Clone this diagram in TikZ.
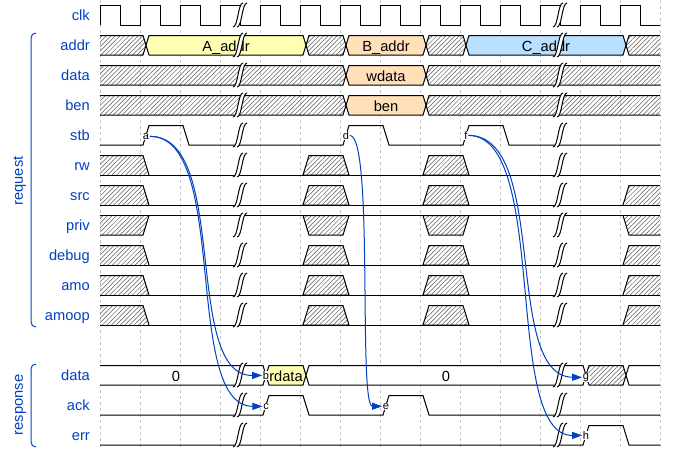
\documentclass[tikz,border=0pt]{standalone}
\usepackage{fontspec}
\setmainfont{Liberation Sans}
\usetikzlibrary{patterns.meta,arrows.meta}
\definecolor{wdblue}{HTML}{0041C4}
\definecolor{wdyel}{HTML}{FFFFB4}
\definecolor{wdora}{HTML}{FFE0B9}
\definecolor{wdsky}{HTML}{B9E0FF}
\tikzset{
  wlane/.style={line width=1pt, black},
  xhatch/.style={pattern={Lines[angle=45,distance=3.2pt,line width=0.5pt]}, pattern color=black!65},
  lanelbl/.style={font=\fontsize{14.67}{17}\selectfont, text=wdblue, anchor=base east, inner sep=0pt},
  vallbl/.style={font=\fontsize{14.67}{17}\selectfont, text=black, anchor=base, inner sep=0pt},
  grplbl/.style={font=\fontsize{14.67}{17}\selectfont, text=wdblue, anchor=base, inner sep=0pt, rotate=90},
  nodelbl/.style={font=\fontsize{11}{13}\selectfont, fill=white, inner sep=0.6pt, anchor=base},
  arcline/.style={wdblue, line width=1pt, -{Triangle[length=10pt,width=7pt]}},
  gridline/.style={black!22, dash pattern=on 3pt off 3pt, line width=0.8pt},
  grpline/.style={wdblue, line width=1pt},
}
% data segment between two data crossings
\newcommand\dseg[3]{\draw[wlane,#3] ({#1+9},5.5)--({#2+3},5.5)--({#2+6},15.25)--({#2+3},25)--({#1+9},25)--({#1+6},15.25)--cycle;}
\newcommand\dsegL[2]{\path[#2] (100,5.5)--({#1+3},5.5)--({#1+6},15.25)--({#1+3},25)--(100,25)--cycle;
  \draw[wlane] (100,5.5)--({#1+3},5.5)--({#1+6},15.25)--({#1+3},25)--(100,25);}
\newcommand\dsegR[2]{\path[#2] (660,5.5)--({#1+9},5.5)--({#1+6},15.25)--({#1+9},25)--(660,25)--cycle;
  \draw[wlane] (660,5.5)--({#1+9},5.5)--({#1+6},15.25)--({#1+9},25)--(660,25);}
% x regions in digital lanes
\newcommand\xlow[2]{\draw[wlane,xhatch] ({#1+3},25)--({#1+9},5.5)--({#2+3},5.5)--({#2+9},25)--cycle;}
\newcommand\xhigh[2]{\draw[wlane,xhatch] ({#1+3},5.5)--({#1+9},25)--({#2+3},25)--({#2+9},5.5)--cycle;}
\newcommand\xstartlow[1]{\path[xhatch] (100,5.5)--({#1+3},5.5)--({#1+9},25)--(100,25)--cycle;
  \draw[wlane] (100,5.5)--({#1+3},5.5)--({#1+9},25);}
\newcommand\xstarthigh[1]{\path[xhatch] (100,25)--({#1+3},25)--({#1+9},5.5)--(100,5.5)--cycle;
  \draw[wlane] (100,25)--({#1+3},25)--({#1+9},5.5);}
\newcommand\xendlow[1]{\path[xhatch] ({#1+3},25)--({#1+9},5.5)--(660,5.5)--(660,25)--cycle;
  \draw[wlane] ({#1+3},25)--({#1+9},5.5)--(660,5.5);}
\newcommand\xendhigh[1]{\path[xhatch] ({#1+3},5.5)--({#1+9},25)--(660,25)--(660,5.5)--cycle;
  \draw[wlane] ({#1+3},5.5)--({#1+9},25)--(660,25);}
% gap glyph
\newcommand\wgap[2]{%
  \fill[white] ({#1-7},{#2+27}) .. controls ({#1-2},{#2+27}) and ({#1-2},{#2+3}) .. ({#1+3},{#2+3}) -- ({#1+7},{#2+3}) .. controls ({#1+2},{#2+3}) and ({#1+2},{#2+27}) .. ({#1-3},{#2+27}) -- cycle;
  \draw[line width=1pt] ({#1-7},{#2+27}) .. controls ({#1-2},{#2+27}) and ({#1-2},{#2+3}) .. ({#1+3},{#2+3});
  \draw[line width=1pt] ({#1-3},{#2+27}) .. controls ({#1+2},{#2+27}) and ({#1+2},{#2+3}) .. ({#1+7},{#2+3});}
\begin{document}
\begin{tikzpicture}[x=1pt,y=-1pt]
\useasboundingbox (0,0) rectangle (680,450);
\fill[white] (0,0) rectangle (680,450);
% grid
\foreach \k in {0,...,14} {\draw[gridline] ({100+40*\k},0) -- ({100+40*\k},450);}
% lane labels
\node[lanelbl] (lclk) at (90,20.7) {clk};
\node[lanelbl] (laddr) at (90,50.7) {addr};
\node[lanelbl] (ldata) at (90,80.7) {data};
\node[lanelbl] (lben) at (90,110.7) {ben};
\node[lanelbl] (lstb) at (90,140.7) {stb};
\node[lanelbl] (lrw) at (90,170.7) {rw};
\node[lanelbl] (lsrc) at (90,200.7) {src};
\node[lanelbl] (lpriv) at (90,230.7) {priv};
\node[lanelbl] (ldebug) at (90,260.7) {debug};
\node[lanelbl] (lamo) at (90,290.7) {amo};
\node[lanelbl] (lamoop) at (90,320.7) {amoop};
\node[lanelbl] (lrdata) at (90,380.7) {data};
\node[lanelbl] (lack) at (90,410.7) {ack};
\node[lanelbl] (lerr) at (90,440.7) {err};
% groups
\draw[grpline] (36,33) .. controls (33,33) and (31,35) .. (31,38) -- (31,322) .. controls (31,325) and (33,327) .. (36,327);
\draw[grpline] (36,364) .. controls (33,364) and (31,366) .. (31,369) -- (31,442) .. controls (31,445) and (33,447) .. (36,447);
\node[grplbl] (greq) at (23,181) {request};
\node[grplbl] (gresp) at (23,405) {response};
% clk
\draw[wlane] (100,25) \foreach \k in {0,...,13} { -- ({100+40*\k},5.5) -- ({120+40*\k},5.5) -- ({120+40*\k},25) -- ({140+40*\k},25)};
% addr
\begin{scope}[shift={(0,30)}]
\dsegL{140}{xhatch}
\dseg{140}{300}{fill=wdyel}
\dseg{300}{340}{xhatch}
\dseg{340}{420}{fill=wdora}
\dseg{420}{460}{xhatch}
\dseg{460}{620}{fill=wdsky}
\dsegR{620}{xhatch}
\node[vallbl] (vA) at (226,21) {A\_addr};
\node[vallbl] (vB) at (386,21) {B\_addr};
\node[vallbl] (vC) at (546,21) {C\_addr};
\end{scope}
% data
\begin{scope}[shift={(0,60)}]
\dsegL{340}{xhatch}
\dseg{340}{420}{fill=wdora}
\dsegR{420}{xhatch}
\node[vallbl] (vwd) at (386,21) {wdata};
\end{scope}
% ben
\begin{scope}[shift={(0,90)}]
\dsegL{340}{xhatch}
\dseg{340}{420}{fill=wdora}
\dsegR{420}{xhatch}
\node[vallbl] (vben) at (386,21) {ben};
\end{scope}
% stb
\begin{scope}[shift={(0,120)}]
\draw[wlane] (100,25)--(143,25)--(149,5.5)--(183,5.5)--(189,25)--(343,25)--(349,5.5)--(383,5.5)--(389,25)--(463,25)--(469,5.5)--(503,5.5)--(509,25)--(660,25);
\end{scope}
% rw
\begin{scope}[shift={(0,150)}]
\xstartlow{140}\xlow{300}{340}\xlow{420}{460}
\draw[wlane] (100,25)--(660,25);
\end{scope}
% src, debug, amo, amoop
\foreach \T in {180,240,270,300} {
\begin{scope}[shift={(0,\T)}]
\xstartlow{140}\xlow{300}{340}\xlow{420}{460}\xendlow{620}
\draw[wlane] (100,25)--(660,25);
\end{scope}}
% priv
\begin{scope}[shift={(0,210)}]
\xstarthigh{140}\xhigh{300}{340}\xhigh{420}{460}\xendhigh{620}
\draw[wlane] (100,5.5)--(660,5.5);
\end{scope}
% response data
\begin{scope}[shift={(0,360)}]
\dsegL{260}{fill=white}
\dseg{260}{300}{fill=wdyel}
\dseg{300}{580}{fill=white}
\dseg{580}{620}{xhatch}
\dsegR{620}{fill=white}
\node[vallbl] (v0a) at (176,21) {0};
\node[vallbl] (vrd) at (286,21) {rdata};
\node[vallbl] (v0b) at (446,21) {0};
\end{scope}
% ack
\begin{scope}[shift={(0,390)}]
\draw[wlane] (100,25)--(263,25)--(269,5.5)--(303,5.5)--(309,25)--(383,25)--(389,5.5)--(423,5.5)--(429,25)--(660,25);
\end{scope}
% err
\begin{scope}[shift={(0,420)}]
\draw[wlane] (100,25)--(583,25)--(589,5.5)--(623,5.5)--(629,25)--(660,25);
\end{scope}
% gaps
\foreach \T in {0,30,60,90,120,150,180,210,240,270,300,360,390,420} {\wgap{240}{\T}\wgap{560}{\T}}
% node labels
\node[nodelbl] (a) at (146,139.3) {a};
\node[nodelbl] (d) at (346,139.3) {d};
\node[nodelbl] (f) at (466,139.3) {f};
\node[nodelbl] (b) at (266,379.3) {b};
\node[nodelbl] (g) at (586,379.3) {g};
\node[nodelbl] (c) at (266,409.3) {c};
\node[nodelbl] (e) at (386,409.3) {e};
\node[nodelbl] (h) at (586,439.3) {h};
% arcs
\draw[arcline] (a) .. controls (230,136) and (182,376) .. (b);
\draw[arcline] (a) .. controls (230,136) and (182,406) .. (c);
\draw[arcline] (d) .. controls (374,136) and (358,406) .. (e);
\draw[arcline] (f) .. controls (550,136) and (502,376) .. (g);
\draw[arcline] (f) .. controls (550,136) and (502,436) .. (h);
\end{tikzpicture}
\end{document}
